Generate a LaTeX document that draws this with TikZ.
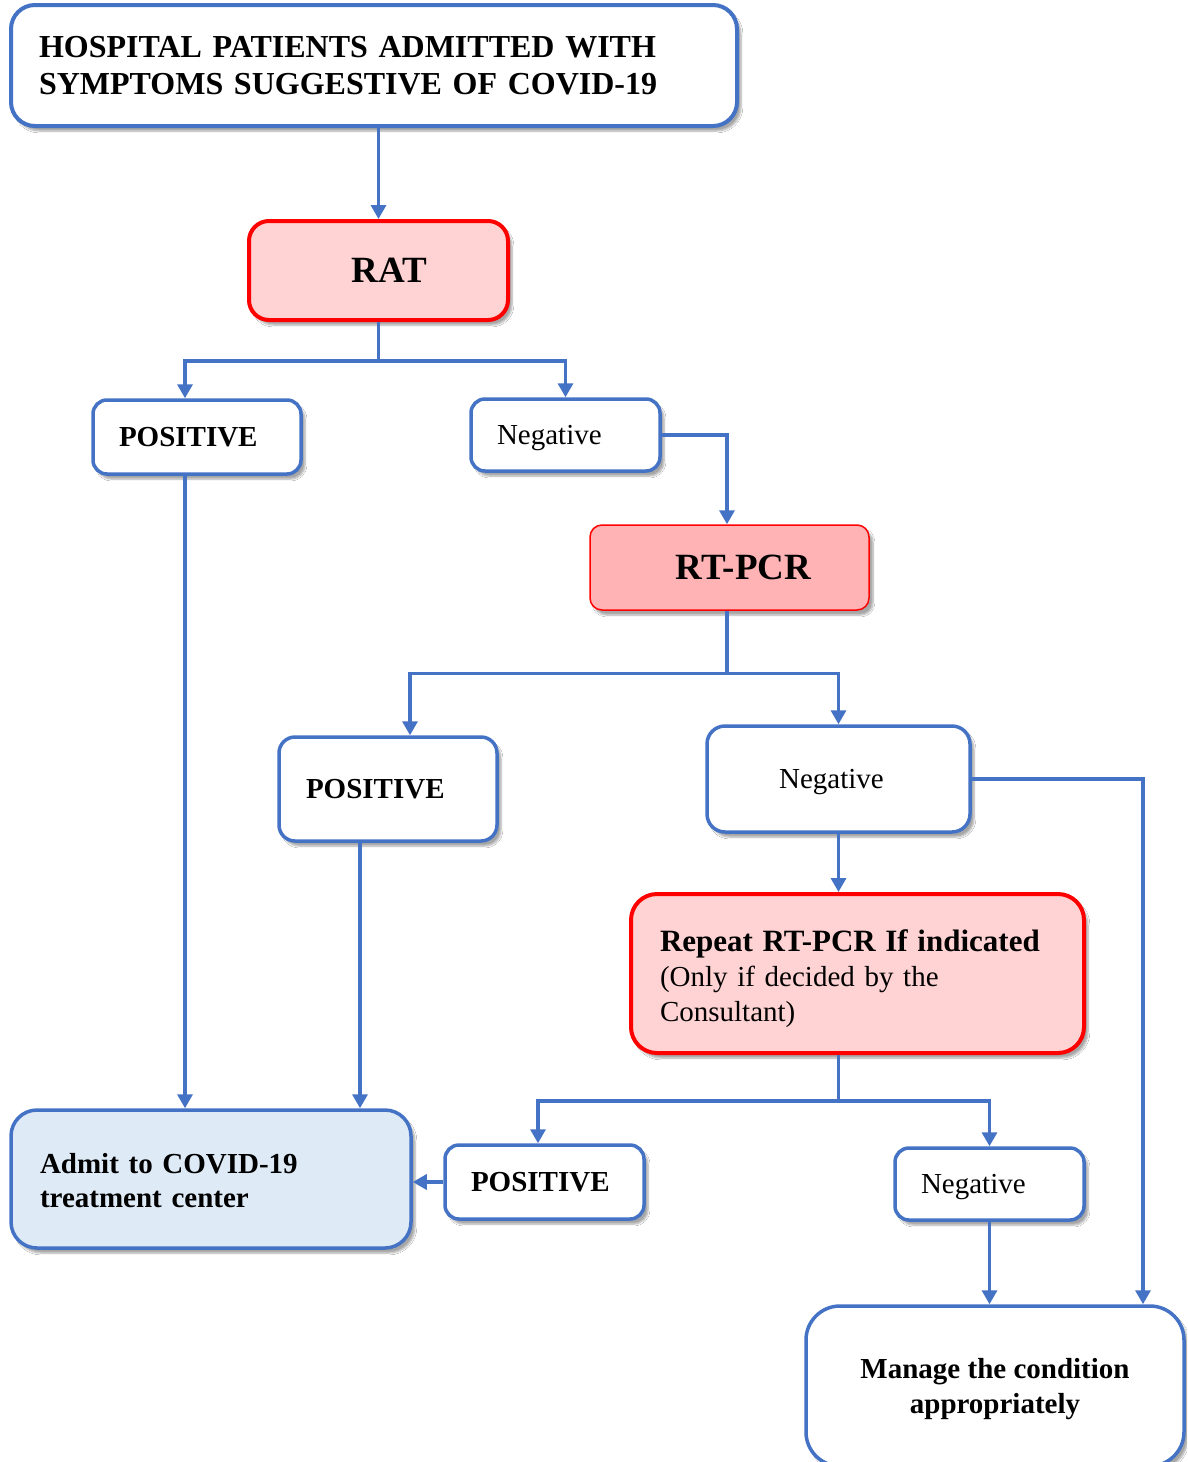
\documentclass[tikz,border=0pt]{standalone}
\usepackage{fontspec}
\setmainfont{Liberation Serif}
\usetikzlibrary{arrows.meta,shadows,shadows.blur}
\definecolor{bl}{HTML}{4472C4}
\definecolor{pk}{HTML}{FFD3D3}
\definecolor{pkd}{HTML}{FFB3B5}
\definecolor{lb}{HTML}{DEEAF6}
\tikzset{
 shad/.style={blur shadow={shadow xshift=4pt,shadow yshift=-5pt,shadow blur steps=6,shadow opacity=35}},
 box/.style={draw=bl,line width=3.5pt,fill=white,rounded corners=14pt,shad,inner sep=0pt},
 fb/.style={font=\fontsize{29}{34}\selectfont\bfseries},
 fr/.style={font=\fontsize{29}{34}\selectfont},
 arr/.style={draw=bl,line width=3.3pt,-{Triangle[width=15pt,length=14pt]}},
 ln/.style={draw=bl,line width=3.3pt},
}
\begin{document}
\begin{tikzpicture}[x=1pt,y=-1pt]
\clip (0,0) rectangle (1187,1462);
\fill[white] (0,0) rectangle (1187,1462);
% nodes
\node[box,rounded corners=24pt,line width=4pt,minimum width=726pt,minimum height=121pt,text width=670pt,align=left,font=\fontsize{32}{37}\selectfont\bfseries] (top) at (374,65.5) {HOSPITAL PATIENTS ADMITTED WITH\\SYMPTOMS SUGGESTIVE OF COVID-19};
\node[box,draw=red,fill=pk,rounded corners=20pt,line width=4pt,minimum width=259pt,minimum height=99pt,font=\fontsize{37}{40}\selectfont\bfseries] (rat) at (378.5,270.5) {\hspace*{22pt}RAT};
\node[box,fb,minimum width=208pt,minimum height=74pt,text width=156pt,align=left,text depth=0pt] (pos1) at (197,437) {POSITIVE};
\node[box,fr,minimum width=189pt,minimum height=72pt,text width=137pt,align=left,text depth=0pt] (neg1) at (565.5,435) {Negative};
\node[box,draw=red,fill=pkd,rounded corners=12pt,line width=1.5pt,minimum width=279pt,minimum height=85pt,font=\fontsize{37}{40}\selectfont\bfseries] (rtpcr) at (729.5,567.5) {\hspace*{28pt}RT-PCR};
\node[box,fb,rounded corners=16pt,minimum width=218pt,minimum height=104pt,text width=164pt,align=left,text depth=0pt] (pos2) at (388,789) {POSITIVE};
\node[box,fr,rounded corners=18pt,minimum width=263pt,minimum height=106pt,text depth=0pt] (neg2) at (838.5,779) {Negative\hspace*{14pt}};
\node[box,fr,draw=red,fill=pk,line width=4pt,rounded corners=26pt,minimum width=453pt,minimum height=159pt,text width=395pt,align=left,font=\fontsize{29}{35}\selectfont] (rep) at (857.5,973.5) {{\fontsize{31}{35}\selectfont\bfseries\rule{0pt}{32pt}Repeat RT-PCR If indicated}\\(Only if decided by the\\Consultant)};
\node[box,fb,fill=lb,rounded corners=26pt,minimum width=400pt,minimum height=138pt,text width=342pt,align=left] (admit) at (211,1179) {\rule{0pt}{23pt}Admit to COVID-19\\treatment center};
\node[box,fb,minimum width=199pt,minimum height=74pt,text width=147pt,align=left,text depth=0pt] (pos3) at (544.5,1182) {POSITIVE};
\node[box,fr,minimum width=189pt,minimum height=72pt,text width=137pt,align=left,text depth=0pt] (neg3) at (989.5,1184) {Negative};
\node[box,rounded corners=34pt,minimum width=378pt,minimum height=160pt,align=center,font=\fontsize{29}{35}\selectfont\bfseries] (man) at (995,1386) {\rule{0pt}{27pt}Manage the condition\\appropriately};
% connectors
\draw[arr] (rat.north |- top.south) -- (rat.north);
\draw[ln] (rat.south) -- ++(0,39) coordinate (b1);
\draw[arr] (b1) -| ([xshift=-12pt]pos1.north);
\draw[arr] (b1) -| (neg1.north);
\draw[arr] (neg1.east) -| ([xshift=-2.5pt]rtpcr.north);
\draw[ln] ([xshift=-2.5pt]rtpcr.south) -- ++(0,63) coordinate (b2);
\draw[arr] (b2) -| ([xshift=22pt]pos2.north);
\draw[arr] (b2) -| (neg2.north);
\draw[arr] (neg2.east) -| ([xshift=148pt]man.north);
\draw[arr] (neg2.south) -- (neg2.south |- rep.north);
\draw[ln] (neg2.south |- rep.south) -- ++(0,46) coordinate (b3);
\draw[arr] (b3) -| ([xshift=-6.5pt]pos3.north);
\draw[arr] (b3) -| (neg3.north);
\draw[arr] (pos3.west) -- (pos3.west -| admit.east);
\draw[arr] (neg3.south) -- (neg3.south |- man.north);
\draw[arr] ([xshift=-12pt]pos1.south) -- ([xshift=-12pt]pos1.south |- admit.north);
\draw[arr] ([xshift=-28pt]pos2.south) -- ([xshift=-28pt]pos2.south |- admit.north);
\end{tikzpicture}
\end{document}
